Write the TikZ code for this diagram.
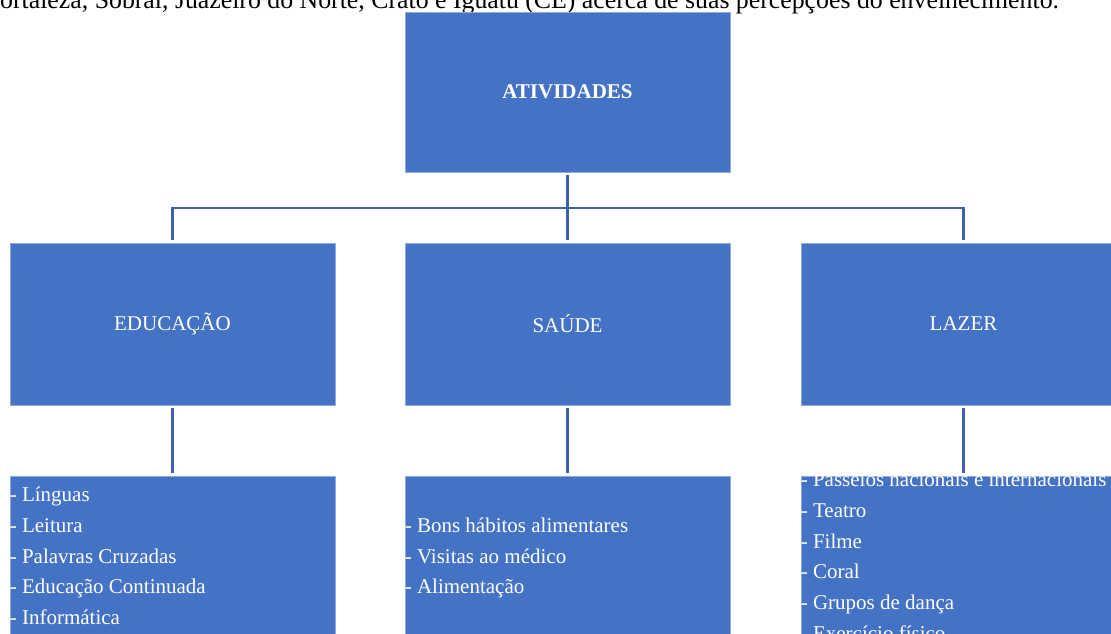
\documentclass[tikz,border=0pt]{standalone}
\usepackage{fontspec}
\setmainfont{Liberation Serif}
\definecolor{boxblue}{HTML}{4472C4}
\definecolor{edgeblue}{HTML}{8FAADC}
\definecolor{lineblue}{HTML}{3C62AC}
\begin{document}
\begin{tikzpicture}[x=1pt,y=-1pt,
  box/.style={rectangle, fill=boxblue, draw=edgeblue, line width=0.8pt, minimum width=325pt, inner sep=0pt, text=white, font=\fontsize{21}{30.7}\selectfont},
  head/.style={box, minimum height=160pt},
  mid/.style={box, minimum height=162pt},
  leaf/.style={box, minimum height=160pt},
  list/.style={anchor=west, inner sep=0pt, align=left, text=white, font=\fontsize{21}{30.7}\selectfont},
  conn/.style={draw=lineblue, line width=2.6pt}]
\useasboundingbox (0,0) rectangle (1111,633);
\clip (0,0) rectangle (1111,633);
\fill[white] (0,0) rectangle (1111,633);

\node[font=\fontsize{25.8}{30}\selectfont, anchor=base west, inner sep=0pt] (caption) at (0,8.5) {ortaleza, Sobral, Juazeiro do Norte, Crato e Iguatu (CE) acerca de suas percepções do envelhecimento.};

\node[head] (top) at (567.5,92) {\textbf{ATIVIDADES}};
\node[mid] (edu) at (172.5,324) {EDUCAÇÃO};
\node[mid] (sau) at (567.5,324) {SAÚDE};
\node[mid] (laz) at (963.5,324) {LAZER};
\node[leaf] (edub) at (172.5,556) {};
\node[leaf] (saub) at (567.5,556) {};
\node[leaf] (lazb) at (963.5,556) {};

\node[list] (edut) at (edub.west) {- Línguas\\- Leitura\\- Palavras Cruzadas\\- Educação Continuada\\- Informática};
\node[list] (saut) at ([yshift=-2pt]saub.west) {- Bons hábitos alimentares\\- Visitas ao médico\\- Alimentação};
\begin{scope}
\clip (lazb.north west) rectangle (lazb.south east);
\node[list] (lazt) at ([yshift=-0.5pt]lazb.west) {- Passeios nacionais e internacionais\\- Teatro\\- Filme\\- Coral\\- Grupos de dança\\- Exercício físico};
\end{scope}

\coordinate (bus) at (567.5,208);
\draw[conn] ([yshift=-3pt]top.south) -- (bus);
\draw[conn] ([yshift=3pt]edu.north) -- (edu.north |- bus) -- (laz.north |- bus) -- ([yshift=3pt]laz.north);
\draw[conn] (bus) -- ([yshift=3pt]sau.north);
\draw[conn] ([yshift=-3pt]edu.south) -- ([yshift=3pt]edub.north);
\draw[conn] ([yshift=-3pt]sau.south) -- ([yshift=3pt]saub.north);
\draw[conn] ([yshift=-3pt]laz.south) -- ([yshift=3pt]lazb.north);
\end{tikzpicture}
\end{document}
